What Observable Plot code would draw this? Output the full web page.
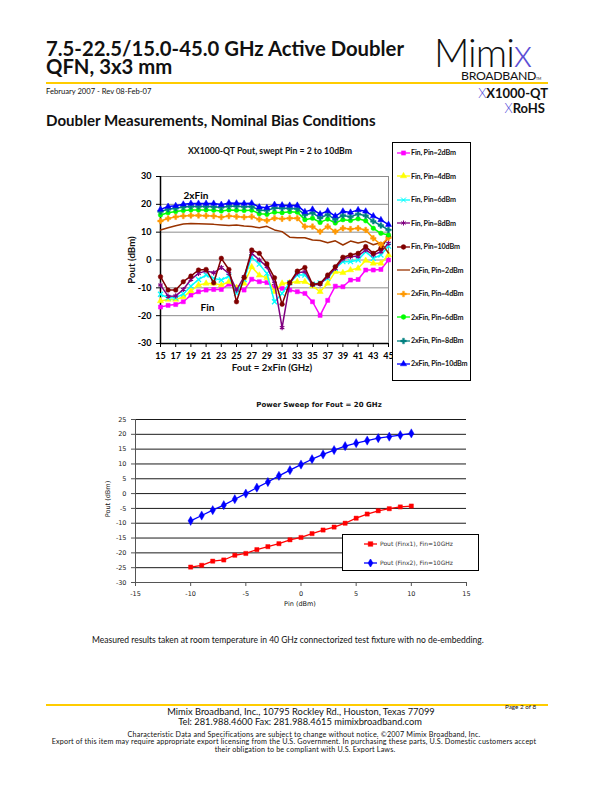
<!DOCTYPE html>
<html><head><meta charset="utf-8">
<script src="https://cdn.jsdelivr.net/npm/d3@7"></script>
<script src="https://cdn.jsdelivr.net/npm/@observablehq/plot@0.6"></script>
<style>
html,body{margin:0;padding:0;background:#fff;}
#page{position:relative;width:612px;height:792px;overflow:hidden;font-family:Lato,"Open Sans",sans-serif;color:#111;}
.t{position:absolute;white-space:nowrap;line-height:1;}
.rule{position:absolute;height:2px;background:#ffcc00;}
#legendTop{position:absolute;left:392px;top:142px;width:77px;height:237px;border:1px solid #000;background:#fff;}
#legendBot{position:absolute;left:342px;top:534px;width:135px;height:35px;border:1px solid #000;background:#fff;}
.lrow{position:absolute;left:4px;display:flex;align-items:center;line-height:1;}
.lrow svg{display:block;}
</style></head>
<body><div id="page"></div>
<script>
// ---------- Data: top chart ----------
const freqs = [15,16,17,18,19,20,21,22,23,24,25,26,27,28,29,30,31,32,33,34,35,36,37,38,39,40,41,42,43,44,45];
const finPin2  = [-16.9,-16.3,-16.0,-15.0,-12.6,-11.4,-10.8,-10.6,-10.6,-8.7,-9.9,-10.8,-6.9,-7.8,-8.1,-9.9,-10.2,-10.8,-11.4,-12.0,-15.0,-19.9,-14.5,-9.4,-9.6,-7.2,-7.0,-3.6,-3.6,-3.4,0.0];
const finPin4  = [-14.7,-14.2,-14.2,-13.3,-11.1,-9.0,-8.4,-8.4,-9.0,-7.8,-9.9,-8.4,-2.5,-5.5,-6.4,-11.4,-8.4,-8.1,-7.8,-7.8,-9.4,-11.4,-8.4,-4.2,-4.6,-3.6,-3.0,-0.2,-1.2,-1.2,1.8];
const finPin6  = [-12.3,-13.6,-13.6,-12.2,-9.4,-7.0,-5.4,-6.6,-7.2,-5.8,-12.0,-7.0,1.0,-1.5,-4.8,-15.0,-12.0,-8.2,-5.4,-5.4,-8.7,-8.2,-6.6,-3.0,-0.6,-0.6,0.0,3.0,0.6,1.8,5.0];
const finPin8  = [-9.0,-13.0,-12.9,-10.6,-7.0,-4.8,-3.9,-4.6,-2.7,-4.8,-10.8,-6.0,2.4,0.0,-2.4,-8.4,-24.3,-8.4,-4.6,-4.2,-9.0,-8.7,-6.0,-3.0,0.4,1.2,1.4,3.6,1.8,3.0,6.0];
const finPin10 = [-6.0,-10.8,-10.8,-7.8,-5.8,-3.6,-3.4,-8.2,0.6,-3.4,-15.0,-6.3,3.6,2.4,-1.4,-6.4,-15.9,-8.2,-4.0,-2.7,-8.7,-8.4,-5.4,-2.4,1.0,1.8,2.4,4.8,2.4,4.2,8.4];
const x2Pin2   = [10.8,11.6,12.3,12.9,13.1,13.0,12.9,12.8,12.6,12.4,12.6,12.2,12.0,11.6,12.1,10.8,10.2,8.2,8.0,8.0,7.2,7.0,6.2,6.9,5.4,6.8,6.1,6.7,5.5,6.3,2.5];
const x2Pin4   = [14.0,14.9,15.5,15.8,16.0,16.0,15.9,15.8,15.4,15.8,15.6,15.4,15.6,14.6,14.2,15.0,14.8,15.0,15.0,12.0,12.0,10.2,12.0,10.2,11.4,11.1,11.4,10.8,7.8,5.5,8.0];
const x2Pin6   = [16.2,17.0,17.4,17.8,18.0,18.0,18.0,17.9,17.6,18.0,17.9,17.8,17.9,16.6,16.4,17.2,17.0,17.3,17.2,14.5,15.0,13.5,14.7,13.3,14.5,14.2,14.8,14.1,11.4,9.6,9.0];
const x2Pin8   = [17.4,18.2,18.6,19.0,19.2,19.2,19.2,19.1,18.9,19.3,19.3,19.1,19.2,17.9,17.8,18.7,18.6,18.5,18.4,16.2,16.9,15.1,16.3,14.5,16.0,15.5,16.5,15.9,13.9,12.4,10.8];
const x2Pin10  = [18.2,19.2,19.5,20.0,20.3,20.3,20.3,20.3,19.9,20.5,20.4,20.3,20.4,19.0,18.8,19.9,19.7,19.6,19.6,17.3,18.2,16.5,17.6,15.8,17.5,17.1,18.0,17.5,15.8,14.4,12.7];
const topSeriesNames = ["Fin, Pin=2dBm","Fin, Pin=4dBm","Fin, Pin=6dBm","Fin, Pin=8dBm","Fin, Pin=10dBm","2xFin, Pin=2dBm","2xFin, Pin=4dBm","2xFin, Pin=6dBm","2xFin, Pin=8dBm","2xFin, Pin=10dBm"];
const topSeriesValues = [finPin2,finPin4,finPin6,finPin8,finPin10,x2Pin2,x2Pin4,x2Pin6,x2Pin8,x2Pin10];
const topYTicks = [-30,-20,-10,0,10,20,30];
const topXTicks = [15,17,19,21,23,25,27,29,31,33,35,37,39,41,43,45];
const topTitle = "XX1000-QT Pout, swept Pin = 2 to 10dBm";
const topXLabel = "Fout = 2xFin (GHz)";
const topYLabel = "Pout (dBm)";

// ---------- Data: bottom chart ----------
const pinLevels = [-10,-9,-8,-7,-6,-5,-4,-3,-2,-1,0,1,2,3,4,5,6,7,8,9,10];
const poutFinx1 = [-24.8,-24.2,-22.8,-22.4,-20.8,-20.2,-18.9,-17.9,-16.9,-15.6,-14.8,-13.5,-12.3,-11.3,-10.0,-8.3,-6.9,-5.8,-5.1,-4.5,-4.2];
const poutFinx2 = [-9.2,-7.4,-5.6,-3.9,-1.9,0.0,2.0,3.9,6.0,7.9,9.8,11.6,13.2,14.7,16.0,17.0,17.9,18.7,19.2,19.7,20.3];
const botSeriesNames = ["Pout (Finx1), Fin=10GHz","Pout (Finx2), Fin=10GHz"];
const botYTicks = [-30,-25,-20,-15,-10,-5,0,5,10,15,20,25];
const botXTicks = [-15,-10,-5,0,5,10,15];
const botTitle = "Power Sweep for Fout = 20 GHz";
const botXLabel = "Pin  (dBm)";
const botYLabel = "Pout (dBm)";

// ---------- Styles ----------
const topColors  = ["#ff00ff","#ffff00","#00ffff","#800080","#800000","#993300","#ff9900","#00ff00","#008080","#0000ff"];
const topSymbols = ["square","triangle","times","asterisk","circle",null,"cross","circle","cross","triangle"];
const strokeOnly = {times:true, asterisk:true};
const botColors  = ["#ff0000","#0000ff"];
const botSymbols = ["square","diamond"];

const page = document.getElementById("page");
function txt(s, x, baseline, size, opts={}) {
  const d = document.createElement("div");
  d.className = "t";
  d.textContent = s;
  const fam = opts.family || "Lato";
  const lh = opts.lh || 1;
  d.style.fontFamily = fam;
  d.style.fontSize = size + "px";
  d.style.lineHeight = lh;
  d.style.fontWeight = opts.weight || "normal";
  if (opts.color) d.style.color = opts.color;
  if (opts.ls) d.style.letterSpacing = opts.ls + "px";
  const b = fam === "Lato" ? ((lh - 1.2)/2 + 0.987) : ((lh - 1.164)/2 + 0.928);
  d.style.top = (baseline - b*size) + "px";
  if (opts.align === "center") { d.style.left = x + "px"; d.style.transform = "translateX(-50%)"; }
  else if (opts.align === "right") { d.style.right = (612 - x) + "px"; }
  else d.style.left = x + "px";
  if (opts.rotate) { d.style.transform = "translate(-50%,-50%) rotate(-90deg)"; d.style.top = baseline + "px"; }
  page.appendChild(d);
  return d;
}
function rule(x1, x2, y) {
  const r = document.createElement("div");
  r.className = "rule"; r.style.left = x1 + "px"; r.style.width = (x2-x1) + "px"; r.style.top = y + "px";
  page.appendChild(r);
}

// ---------- Header ----------
const title = document.createElement("div");
title.className = "t";
title.style.left = "46px"; title.style.top = "38.6px";
title.style.fontFamily = "Lato"; title.style.fontWeight = "bold"; title.style.fontSize = "20.3px"; title.style.lineHeight = "18px";
title.innerHTML = "7.5-22.5/15.0-45.0 GHz Active Doubler<br>QFN, 3x3 mm";
page.appendChild(title);
rule(46, 548, 82);
txt("February 2007 - Rev 08-Feb-07", 46, 94.5, 7.6);
// logo
const logo = document.createElement("div");
logo.className = "t";
logo.style.left = "434px"; logo.style.top = "36.9px"; logo.style.lineHeight = "0.8";
logo.style.fontFamily = "Lato"; logo.style.fontWeight = "300"; logo.style.fontSize = "39px"; logo.style.letterSpacing="-1px";
logo.innerHTML = 'Mimi<span style="color:#5b4fd6;font-weight:300">x</span>' +
  '<div style="font-size:12.3px;line-height:1;letter-spacing:-0.3px;font-weight:normal;margin-left:27px;margin-top:1.5px">BROADBAND<span style="font-size:3.5px;letter-spacing:0">TM</span></div>';
page.appendChild(logo);
const pn = document.createElement("div"); pn.className="t";
pn.style.right = (612-548)+"px"; pn.style.top = "87px"; pn.style.fontFamily="Lato"; pn.style.fontWeight="bold"; pn.style.fontSize="13px";
pn.innerHTML = '<span style="color:#4f48d8;font-weight:300">X</span>X1000-QT';
page.appendChild(pn);
const rh = document.createElement("div"); rh.className="t";
rh.style.right = (612-545)+"px"; rh.style.top = "102px"; rh.style.fontFamily="Lato"; rh.style.fontWeight="bold"; rh.style.fontSize="13px";
rh.innerHTML = '<span style="color:#4f48d8;font-weight:300">X</span>RoHS';
page.appendChild(rh);
txt("Doubler Measurements, Nominal Bias Conditions", 46, 126, 15.1, {weight:"bold"});

// ---------- Top chart ----------
const topMarks = [
  Plot.frame({stroke:"#8c8c8c"}),
  Plot.ruleY([-20,-10,0,10,20], {stroke:"#8c8c8c", strokeWidth:1}),
  Plot.ruleX([15], {stroke:"#000", strokeWidth:1.5}),
  Plot.ruleY([-30], {stroke:"#000", strokeWidth:1.5}),
  Plot.axisY({ticks: topYTicks, tickFormat: d => String(d), tickSize: 4, label: null, fontWeight:"bold", fontSize: 9}),
  Plot.axisX({ticks: topXTicks, tickFormat: d => String(d), tickSize: 4, label: null, fontWeight:"bold", fontSize: 9}),
];
topSeriesNames.forEach((name, i) => {
  const rows = freqs.map((f, j) => ({f, v: topSeriesValues[i][j], series: name}));
  topMarks.push(Plot.line(rows, {x:"f", y:"v", stroke: topColors[i], strokeWidth: 1.5}));
  const sym = topSymbols[i];
  if (sym) {
    const so = strokeOnly[sym];
    topMarks.push(Plot.dot(rows, {x:"f", y:"v", symbol: sym, r: so ? 2.4 : 2.3,
      fill: so ? "none" : topColors[i], stroke: topColors[i], strokeWidth: so ? 1.2 : 0.5}));
  }
});
topMarks.push(Plot.text(["2xFin"], {frameAnchor:"top-left", dx: 23, dy: 15, textAnchor:"start", fontWeight:"bold", fontSize: 10}));
topMarks.push(Plot.text(["Fin"], {frameAnchor:"bottom-left", dx: 40, dy: -33, textAnchor:"start", fontWeight:"bold", fontSize: 10}));

const topPlot = Plot.plot({
  width: 292, height: 240,
  marginLeft: 60, marginRight: 4, marginTop: 36, marginBottom: 37,
  x: {domain: [15, 45]},
  y: {domain: [-30, 30]},
  style: {fontFamily: "Lato", fontSize: "9px", color: "#000", background: "transparent", overflow: "visible"},
  marks: topMarks
});
topPlot.style.position = "absolute"; topPlot.style.left = "100px"; topPlot.style.top = "140px";
page.appendChild(topPlot);
txt(topTitle, 270, 154.5, 8.7, {weight:"bold", align:"center"});
txt(topXLabel, 272, 372, 9.7, {weight:"bold", align:"center"});
txt(topYLabel, 132, 260, 9.7, {weight:"bold", rotate:true});

// top legend
const lt = document.createElement("div"); lt.id = "legendTop"; page.appendChild(lt);
function swatch(color, sym, size) {
  const svg = d3.create("svg").attr("width", 15).attr("height", 8);
  svg.append("line").attr("x1",1).attr("x2",14).attr("y1",4).attr("y2",4).attr("stroke",color).attr("stroke-width",1.3);
  if (sym) {
    const map = {square:d3.symbolSquare, triangle:d3.symbolTriangle, times:d3.symbolTimes, asterisk:d3.symbolAsterisk, circle:d3.symbolCircle, cross:d3.symbolCross, diamond:d3.symbolDiamond};
    const so = strokeOnly[sym];
    svg.append("path").attr("transform","translate(7.5,4)").attr("d", d3.symbol(map[sym], size)())
      .attr("fill", so ? "none" : color).attr("stroke", color).attr("stroke-width", so ? 1 : 0.4);
  }
  return svg.node();
}
topSeriesNames.forEach((name, i) => {
  const row = document.createElement("div"); row.className = "lrow";
  row.style.left = "3px";
  row.style.top = (6 + i*23.45) + "px";
  row.appendChild(swatch(topColors[i], topSymbols[i], 18));
  const lab = document.createElement("span");
  lab.textContent = name; lab.style.fontFamily="Lato"; lab.style.fontWeight="bold"; lab.style.fontSize="7.2px"; lab.style.letterSpacing="-0.15px";
  row.appendChild(lab);
  lt.appendChild(row);
});

// ---------- Bottom chart ----------
const botMarks = [
  Plot.ruleY(botYTicks.filter(d => d > -30), {stroke:"#000", strokeWidth: 0.9}),
  Plot.ruleX([-15], {stroke:"#555", strokeWidth:1}),
  Plot.ruleY([-30], {stroke:"#555", strokeWidth:1}),
  Plot.axisY({ticks: botYTicks, tickFormat: d => String(d), tickSize: 4, label: null, fontSize: 6.5, stroke:"#555"}),
  Plot.axisX({ticks: botXTicks, tickFormat: d => String(d), tickSize: 4, label: null, fontSize: 6.5, stroke:"#555"}),
];
[poutFinx1, poutFinx2].forEach((vals, i) => {
  const rows = pinLevels.map((p, j) => ({p, v: vals[j]}));
  botMarks.push(Plot.line(rows, {x:"p", y:"v", stroke: botColors[i], strokeWidth: 1.3}));
  botMarks.push(Plot.dot(rows, {x:"p", y:"v", symbol: botSymbols[i], r: i === 0 ? 2.4 : 2.8, fill: botColors[i], stroke: botColors[i], strokeWidth: 0.4}));
});
const botPlot = Plot.plot({
  width: 390, height: 200,
  marginLeft: 45, marginRight: 14, marginTop: 9, marginBottom: 28,
  x: {domain: [-15, 15]},
  y: {domain: [-30, 25]},
  style: {fontFamily: "'DejaVu Sans'", fontSize: "6.5px", color: "#222", background: "transparent", overflow: "visible"},
  marks: botMarks
});
botPlot.style.position = "absolute"; botPlot.style.left = "90px"; botPlot.style.top = "410px";
page.appendChild(botPlot);
txt(botTitle, 319, 408, 7, {weight:"bold", align:"center", family:"DejaVu Sans"});
txt(botXLabel, 300, 606, 6.5, {align:"center", family:"DejaVu Sans"});
txt(botYLabel, 108, 499, 6.5, {rotate:true, family:"DejaVu Sans"});

const lb = document.createElement("div"); lb.id = "legendBot"; page.appendChild(lb);
botSeriesNames.forEach((name, i) => {
  const row = document.createElement("div"); row.className = "lrow";
  row.style.left = "20px";
  row.style.top = (5 + i*19) + "px";
  row.appendChild(swatch(botColors[i], botSymbols[i], 22));
  const lab = document.createElement("span");
  lab.textContent = name; lab.style.fontFamily="DejaVu Sans"; lab.style.fontSize="6px"; lab.style.color="#333"; lab.style.marginLeft="2px";
  row.appendChild(lab);
  lb.appendChild(row);
});

// ---------- Caption & footer ----------
txt("Measured results taken at room temperature in 40 GHz connectorized test fixture with no de-embedding.", 92, 644, 8.5);
rule(46, 548, 704);
txt("Mimix Broadband, Inc., 10795 Rockley Rd., Houston, Texas 77099", 301, 715, 9.3, {align:"center"});
txt("Tel: 281.988.4600  Fax: 281.988.4615  mimixbroadband.com", 300, 725.5, 9.3, {align:"center"});
txt("Page 2 of 8", 505, 709.5, 6.3);
txt("Characteristic Data and Specifications are subject to change without notice. ©2007 Mimix Broadband, Inc.", 304, 737.2, 7.2, {align:"center", ls:0.18});
txt("Export of this item may require appropriate export licensing from the U.S. Government. In purchasing these parts, U.S. Domestic customers accept", 294, 744.8, 7.2, {align:"center", ls:0.18});
txt("their obligation to be compliant with U.S. Export Laws.", 305, 752.4, 7.2, {align:"center", ls:0.18});
</script>
</body></html>
